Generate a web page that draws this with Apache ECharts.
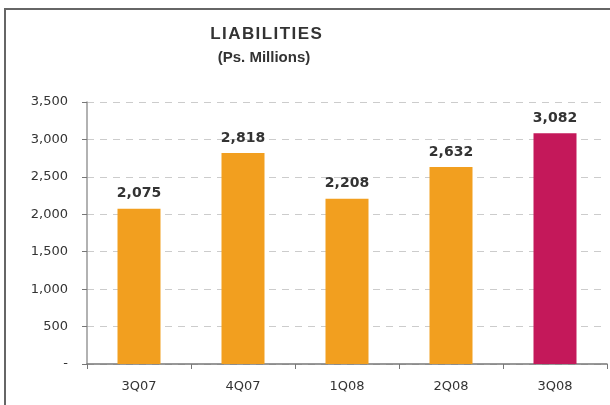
<!DOCTYPE html>
<html>
<head>
<meta charset="utf-8">
<script src="https://cdn.jsdelivr.net/npm/echarts@6/dist/echarts.min.js"></script>
<style>
  html, body { margin: 0; padding: 0; background: #fff; }
  #chart { width: 610px; height: 405px; }
</style>
</head>
<body>
<div id="chart"></div>
<script>
// data
const quarters = ['3Q07', '4Q07', '1Q08', '2Q08', '3Q08'];
const liabilities = [2075, 2818, 2208, 2632, 3082];
const yTicks = [0, 500, 1000, 1500, 2000, 2500, 3000, 3500];

const ORANGE = '#F29F1F';
const CRIMSON = '#C4185A';
const FONT = 'DejaVu Sans';
const TITLE_FONT = 'Liberation Sans';

const chart = echarts.init(document.getElementById('chart'));

function fmt(v) {
  if (v === 0) return '-';
  return v.toLocaleString('en-US');
}

chart.setOption({
  animation: false,
  textStyle: { fontFamily: FONT },
  graphic: [
    // frame round the chart (top + left)
    {
      type: 'polyline',
      shape: { points: [[5, 405], [5, 9], [610, 9]] },
      style: { stroke: '#666', lineWidth: 2, fill: null }
    },
    {
      type: 'text', x: 266, y: 34,
      style: { text: 'L I A B I L I T I E S'.replace(/ /g, '\u200A'), fontFamily: TITLE_FONT,
               fontWeight: 'bold', fontSize: 17, fill: '#333', align: 'center', verticalAlign: 'middle' }
    },
    {
      type: 'text', x: 264, y: 58,
      style: { text: '(Ps. Millions)', fontFamily: TITLE_FONT, fontWeight: 'bold', fontSize: 15,
               fill: '#333', align: 'center', verticalAlign: 'middle' }
    }
  ],
  grid: { left: 87, right: 3, top: 102, bottom: 41, containLabel: false },
  xAxis: {
    type: 'category',
    data: quarters,
    axisLine: { lineStyle: { color: '#777', width: 1.5 } },
    axisTick: { show: true, length: 5, lineStyle: { color: '#777' } },
    axisLabel: { color: '#333', fontSize: 13, margin: 16 }
  },
  yAxis: {
    type: 'value',
    min: yTicks[0],
    max: yTicks[yTicks.length - 1],
    interval: 500,
    axisLine: { show: true, lineStyle: { color: '#999', width: 1.5 } },
    axisTick: { show: true, length: 5, lineStyle: { color: '#777' } },
    axisLabel: { color: '#333', fontSize: 13, margin: 19, formatter: fmt },
    splitLine: { lineStyle: { color: '#ccc', type: [7, 6] } }
  },
  series: [{
    type: 'bar',
    barWidth: 43,
    data: liabilities.map((v, i) => ({
      value: v,
      itemStyle: { color: i === liabilities.length - 1 ? CRIMSON : ORANGE }
    })),
    label: {
      show: true,
      position: 'top',
      distance: 8,
      color: '#333',
      fontWeight: 'bold',
      fontSize: 14,
      formatter: p => fmt(p.value)
    }
  }]
});
</script>
</body>
</html>
